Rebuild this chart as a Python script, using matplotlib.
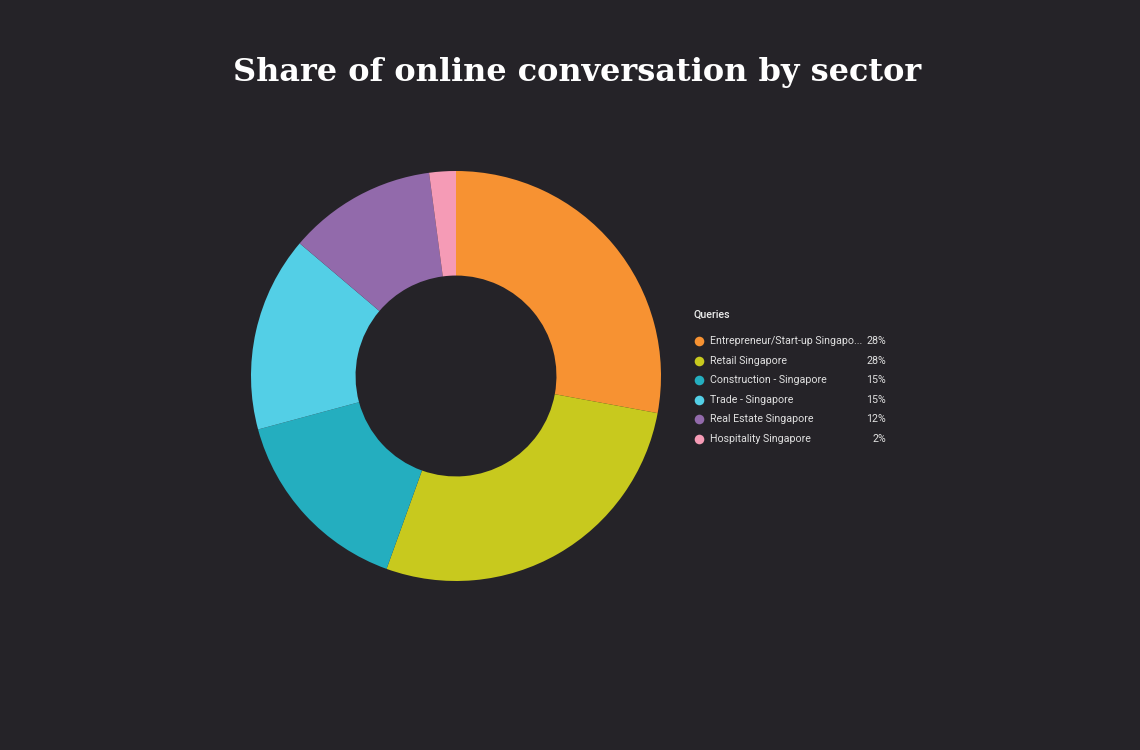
import matplotlib.pyplot as plt

# share of conversation per sector
sectors = ['Entrepreneur/Start-up Singapo...', 'Retail Singapore', 'Construction - Singapore',
           'Trade - Singapore', 'Real Estate Singapore', 'Hospitality Singapore']
shares = [27.9, 27.6, 15.3, 15.4, 11.7, 2.1]
pct_labels = ['28%', '28%', '15%', '15%', '12%', '2%']
colors = ['#F79232', '#C8C91E', '#24AEBF', '#53CFE6', '#926AAB', '#F59BB6']

bg = '#252328'

fig = plt.figure(figsize=(11.4, 7.5), dpi=100, facecolor=bg)

# donut, centre ~(456, 376) px, radius ~205 px
cx, cy, r = 456, 376, 205
ax = fig.add_axes([(cx - r) / 1140, (750 - cy - r) / 750, 2 * r / 1140, 2 * r / 750])
ax.set_facecolor(bg)
ax.pie(shares, colors=colors, startangle=90, counterclock=False,
       radius=1, wedgeprops=dict(width=0.51, linewidth=0))
ax.set_xlim(-1, 1)
ax.set_ylim(-1, 1)
ax.set_aspect('equal')
ax.axis('off')

# overlay in pixel coordinates for title and legend
ov = fig.add_axes([0, 0, 1, 1])
ov.set_xlim(0, 1140)
ov.set_ylim(750, 0)
ov.axis('off')
ov.patch.set_alpha(0)

ov.text(577, 73, 'Share of online conversation by sector', ha='center', va='center',
        color='white', fontsize=23, fontweight='bold', family='DejaVu Serif')

ov.text(694, 315, 'Queries', ha='left', va='center', color='#ececec',
        fontsize=7.7, fontweight='medium', family='Roboto')
for i, (name, pct, col) in enumerate(zip(sectors, pct_labels, colors)):
    y = 341 + i * 19.6
    ov.scatter([699], [y], s=48, color=col, linewidths=0)
    ov.text(710, y, name, ha='left', va='center', color='#e0e0e0',
            fontsize=7.7, family='Roboto')
    ov.text(886, y, pct, ha='right', va='center', color='#e0e0e0',
            fontsize=7.7, family='Roboto')

fig.savefig('out.png', facecolor=bg)
